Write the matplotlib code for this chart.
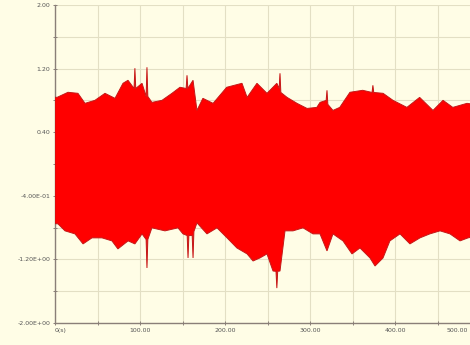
import matplotlib
matplotlib.use("Agg")
import matplotlib.pyplot as plt
import matplotlib.transforms as mtransforms
import numpy as np

# Upper envelope of the signal (time, amplitude)
upper_t = [0, 2.4, 15.3, 27, 35.3, 47, 58.8, 70.6, 80, 85.9, 93, 94, 95, 102.4, 107.2, 108.2, 109.2,
           114, 125.9, 137.6, 147, 154.3, 155.3, 156.3, 162.4, 167, 174, 186, 202, 220, 226,
           237.6, 249.4, 261, 263.7, 264.7, 265.7, 273, 284.7, 296.5, 308, 311.8, 319, 320, 321,
           327, 335, 347, 362, 373, 374, 375, 386, 397.6, 414, 429, 444.7, 456.5, 468, 484.7, 500, 520]
upper_v = [0.84, 0.838, 0.902, 0.889, 0.763, 0.801, 0.889, 0.826, 1.015, 1.053, 0.95, 1.205, 0.95, 1.015, 0.85, 1.217, 0.85,
           0.775, 0.801, 0.889, 0.965, 0.95, 1.116, 0.95, 1.053, 0.674, 0.826, 0.763, 0.965, 1.015, 0.838,
           1.015, 0.889, 1.015, 0.95, 1.141, 0.9, 0.838, 0.763, 0.699, 0.712, 0.775, 0.8, 0.927, 0.75,
           0.674, 0.712, 0.902, 0.927, 0.9, 0.99, 0.9, 0.889, 0.801, 0.712, 0.838, 0.674, 0.801, 0.712, 0.763, 0.74, 0.76]

# Lower envelope of the signal (time, amplitude)
lower_t = [0, 3.5, 11.8, 23.5, 33, 43.5, 55.3, 67, 74, 86, 94, 102.4, 107.2, 108.2, 109.2, 114, 129.4,
           144.7, 150.6, 155.5, 156.5, 157.5, 161.4, 162.4, 163.4, 167, 178.8, 190.6, 202.4, 214, 226, 233,
           241, 249.4, 256.5, 260, 261, 262, 264.7, 270.6, 280, 291.8, 303.5, 311.8, 320, 327, 338.8,
           349.4, 358.8, 370.6, 376.5, 385.9, 394, 405.9, 417.6, 429.4, 441, 453, 464.7, 476.5, 486, 500, 520]
lower_v = [-0.75, -0.753, -0.841, -0.879, -1.005, -0.929, -0.929, -0.967, -1.068, -0.967, -1.005, -0.879, -0.95, -1.308, -0.95, -0.803, -0.841,
           -0.803, -0.879, -0.9, -1.182, -0.9, -0.9, -1.182, -0.85, -0.74, -0.879, -0.803, -0.929, -1.056, -1.131, -1.22,
           -1.182, -1.131, -1.346, -1.35, -1.561, -1.35, -1.346, -0.841, -0.841, -0.803, -0.879, -0.879, -1.093, -0.879, -0.967,
           -1.131, -1.056, -1.182, -1.283, -1.182, -0.967, -0.879, -1.005, -0.929, -0.879, -0.841, -0.879, -0.967, -0.929, -0.9, -0.9]

y_ticks = [2.0, 1.2, 0.4, -0.4, -1.2, -2.0]
y_labels = ["2.00", "1.20", "0.40", "-4.00E-01", "-1.20E+00", "-2.00E+00"]
x_ticks = [0, 100, 200, 300, 400, 500]
x_labels = ["0(s)", "100.00", "200.00", "300.00", "400.00", "500.00"]

bg = "#FFFDE6"
fig = plt.figure(figsize=(4.70, 3.45), dpi=100, facecolor=bg)
ax = fig.add_axes([55 / 470, 22 / 345, 442 / 470, 318 / 345], facecolor=bg)

poly_t = list(upper_t) + list(reversed(lower_t))
poly_v = list(upper_v) + list(reversed(lower_v))
ax.fill(poly_t, poly_v, facecolor="#FF0000", edgecolor="#C41818", lw=0.7, zorder=3)

ax.set_xlim(0, 520)
ax.set_ylim(-2.0, 2.0)

ax.set_yticks(y_ticks)
ax.set_yticklabels(y_labels)
ax.set_yticks(np.arange(-2.0, 2.01, 0.4), minor=True)
ax.set_xticks(x_ticks)
ax.set_xticklabels(x_labels)
ax.set_xticks(np.arange(0, 521, 50), minor=True)
ax.set_axisbelow(True)

ax.grid(True, which="both", color="#E3DFC4", lw=0.8, zorder=0)
ax.tick_params(axis="both", which="both", labelsize=4.5, labelcolor="#555555",
               color="#8A7F78", length=2.5, width=0.7, direction="inout", pad=2)
xl = ax.get_xticklabels()
for lbl in xl:
    lbl.set_horizontalalignment("center")
xl[0].set_horizontalalignment("left")
xl[-1].set_horizontalalignment("right")
xl[-1].set_transform(xl[-1].get_transform() + mtransforms.ScaledTranslation(-0.12, 0, fig.dpi_scale_trans))

for s in ["top", "right"]:
    ax.spines[s].set_visible(False)
for s in ["left", "bottom"]:
    ax.spines[s].set_color("#8A7F78")
    ax.spines[s].set_linewidth(1.0)

fig.savefig("out.png", dpi=100, facecolor=bg)
